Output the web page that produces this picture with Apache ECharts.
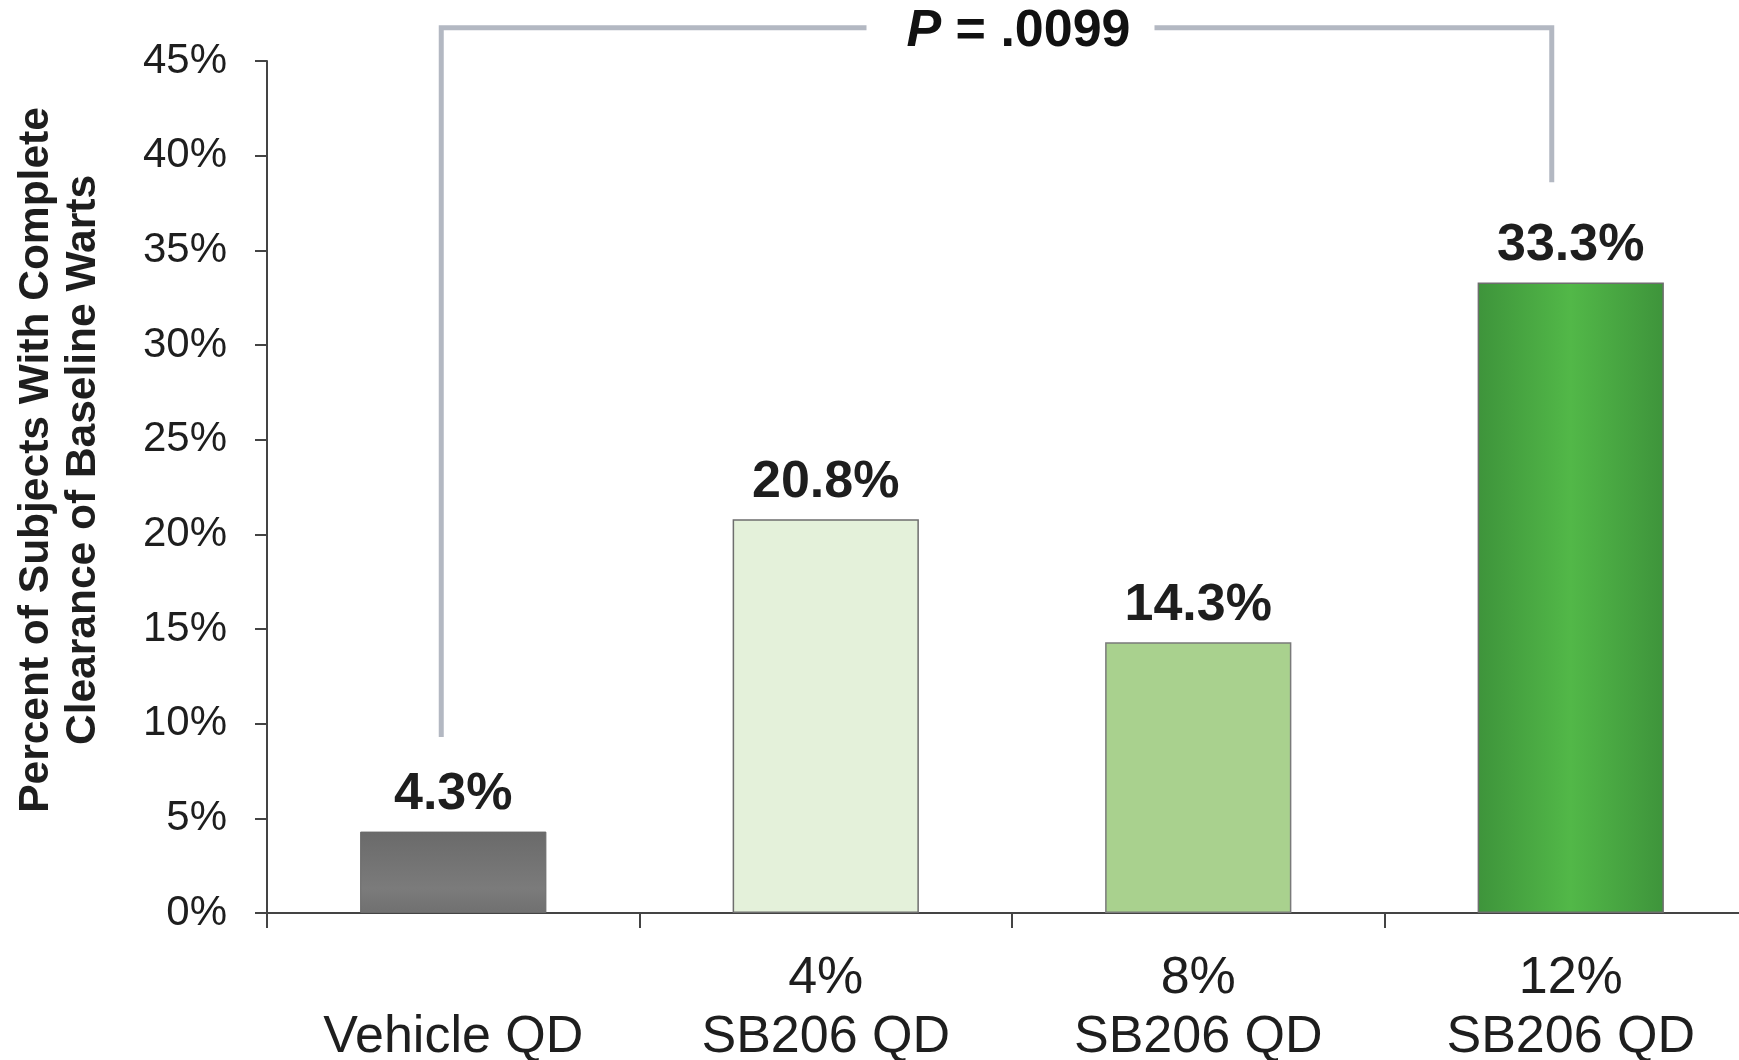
<!DOCTYPE html>
<html>
<head>
<meta charset="utf-8">
<script src="https://cdn.jsdelivr.net/npm/echarts@6/dist/echarts.min.js"></script>
<style>
  html, body { margin: 0; padding: 0; background: #fff; }
  #chart { width: 1739px; height: 1060px; }
</style>
</head>
<body>
<div id="chart"></div>
<script>
// Complete clearance of baseline warts by treatment group
const doseLabels = ['', '4%', '8%', '12%'];
const groupLabels = ['Vehicle QD', 'SB206 QD', 'SB206 QD', 'SB206 QD'];
const clearance = [4.3, 20.8, 14.3, 33.3];
const yMin = 0, yMax = 45, yStep = 5;

// Significance bracket between vehicle and 12% groups
const bracketFrom = 0, bracketTo = 3;
const bracketLegLow = [9.3, 38.6];   // where each leg stops (percent)
const bracketTop = 46.75;            // height of the horizontal bar (percent)
const pValueText = '.0099';

const FONT = '"Liberation Sans", Arial, Helvetica, sans-serif';
const categories = doseLabels.map((d, i) => d + '\n' + groupLabels[i]);

const barStyles = [
  { color: { type: 'linear', x: 0, y: 0, x2: 0, y2: 1,
      colorStops: [{ offset: 0, color: '#6a6a6a' }, { offset: 0.7, color: '#7b7b7b' }, { offset: 1, color: '#707070' }] },
    borderColor: '#6a6a6a', borderWidth: 1 },
  { color: '#e4f1da', borderColor: '#6e6e6e', borderWidth: 1.5 },
  { color: '#a9d18e', borderColor: '#7a7a7a', borderWidth: 1.5 },
  { color: { type: 'linear', x: 0, y: 0, x2: 1, y2: 0,
      colorStops: [{ offset: 0, color: '#3e943b' }, { offset: 0.5, color: '#52b848' }, { offset: 1, color: '#3e943b' }] },
    borderColor: '#6e6e6e', borderWidth: 1.5 }
];

const chart = echarts.init(document.getElementById('chart'), null, { renderer: 'canvas' });

chart.setOption({
  animation: false,
  backgroundColor: '#ffffff',
  grid: { left: 267, top: 61, bottom: 147, right: -18, outerBoundsMode: 'none', containLabel: false },
  xAxis: {
    type: 'category',
    data: categories,
    axisLine: { lineStyle: { color: '#444', width: 2 } },
    axisTick: { show: true, length: 15, lineStyle: { color: '#444', width: 2 } },
    axisLabel: { color: '#1e1e1e', fontFamily: FONT, fontSize: 52, lineHeight: 59, margin: 36, interval: 0 }
  },
  yAxis: {
    type: 'value',
    min: yMin, max: yMax, interval: yStep,
    splitLine: { show: false },
    axisLine: { show: true, lineStyle: { color: '#444', width: 2 } },
    axisTick: { show: true, length: 12, lineStyle: { color: '#444', width: 2 } },
    axisLabel: { color: '#1e1e1e', fontFamily: FONT, fontSize: 42, margin: 40, formatter: '{value}%' }
  },
  series: [{
    type: 'bar',
    barWidth: '50%',
    data: clearance.map((v, i) => ({ value: v, itemStyle: barStyles[i] })),
    label: {
      show: true, position: 'top', distance: 11,
      color: '#1e1e1e', fontFamily: FONT, fontWeight: 'bold', fontSize: 52,
      formatter: p => p.value.toFixed(1) + '%'
    }
  }]
});

// Annotations placed through the axis scales
const pt = (cat, val) => chart.convertToPixel({ xAxisIndex: 0, yAxisIndex: 0 }, [cat, val]);
const leftLow = pt(bracketFrom, bracketLegLow[0]);
const rightLow = pt(bracketTo, bracketLegLow[1]);
const topY = pt(bracketFrom, bracketTop)[1];
const xL = leftLow[0] - 12;
const xR = rightLow[0] - 19;
const textCx = (xL + xR) / 2 + 22;
const gapCx = textCx - 8;
const gapHalf = 144;

chart.setOption({
  graphic: [
    { type: 'polyline', silent: true,
      shape: { points: [[xL, leftLow[1]], [xL, topY], [gapCx - gapHalf, topY]] },
      style: { stroke: '#b3b8c2', lineWidth: 5, fill: null } },
    { type: 'polyline', silent: true,
      shape: { points: [[gapCx + gapHalf, topY], [xR, topY], [xR, rightLow[1]]] },
      style: { stroke: '#b3b8c2', lineWidth: 5, fill: null } },
    { type: 'text', silent: true, x: textCx, y: topY + 4,
      style: {
        text: '{p|P} {r|= ' + pValueText + '}',
        align: 'center', verticalAlign: 'middle',
        rich: {
          p: { fontFamily: FONT, fontSize: 52, fontWeight: 'bold', fontStyle: 'italic', fill: '#111' },
          r: { fontFamily: FONT, fontSize: 52, fontWeight: 'bold', fill: '#111' }
        },
        fontFamily: FONT, fontSize: 52, fontWeight: 'bold', fill: '#111'
      } },
    { type: 'text', silent: true, x: 60, y: 460, rotation: Math.PI / 2,
      style: {
        text: 'Percent of Subjects With Complete\nClearance of Baseline Warts',
        align: 'center', verticalAlign: 'middle',
        fontFamily: FONT, fontSize: 42.5, fontWeight: 'bold', lineHeight: 47, fill: '#1e1e1e'
      } }
  ]
});
</script>
</body>
</html>
